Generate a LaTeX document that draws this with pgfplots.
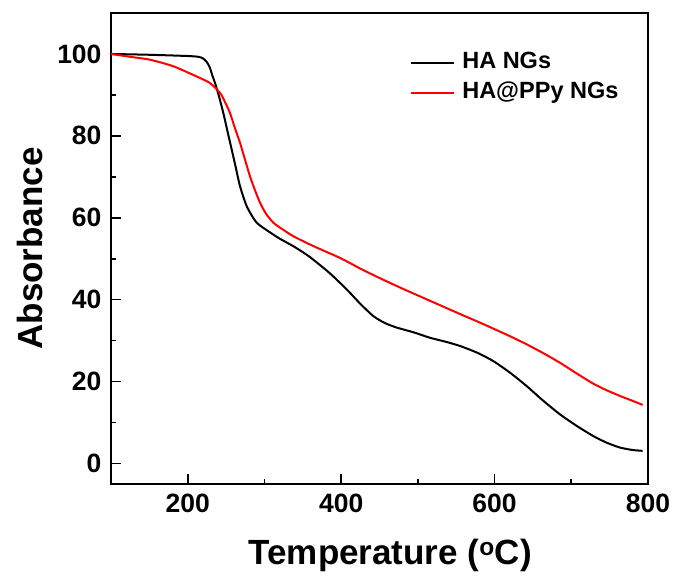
\documentclass[border=0pt]{standalone}
\usepackage{fontspec}
\setmainfont{Liberation Sans}
\usepackage{pgfplots}
\pgfplotsset{compat=1.18}
\pgfplotstableread{
T v
100 100
150 99.8
200 99.5
214 99.3
220 98.9
225 98.0
229 96.6
232 94.8
235.6 92.9
241 89.5
246.4 85.6
252 81
257.3 76.7
263 72
268.2 67.7
277 62.8
290 58.8
311.6 55.9
320 54.9
340 52.8
359.4 50.4
385 46.5
407.3 42.5
425 39
441.9 36
457 34.3
472.4 33.2
495 32
515.9 30.7
535 29.8
555 28.7
578 27.0
598.4 25.0
620 22.2
641.9 18.9
663 15.4
685.3 12
707 9.2
728.7 6.7
746 5.1
763.5 3.9
780 3.3
793 3.1
}\haData
\pgfplotstableread{
T v
100 100
125 99.3
150.8 98.6
181.2 97.0
211.7 94.5
229 92.9
242.1 90.5
248 88.5
255.1 85.6
261 82.2
268.2 78.3
275 74
281.2 70.1
288 66.6
294.2 63.7
302 61
311.6 58.8
320.3 57.6
337.7 55.5
363.7 53.1
398.5 50.2
425 47.6
450 45.3
480 42.7
515 39.8
555 36.5
581 34.4
600 32.8
620 31.1
641.9 29.1
663 27
685.3 24.6
707 22
728.7 19.5
746 17.9
763.5 16.5
780 15.3
793 14.3
}\ppyData
\begin{document}
\begin{tikzpicture}
\begin{axis}[
  scale only axis, width=537pt, height=471pt,
  xmin=100, xmax=800, ymin=-5, ymax=110,
  xtick={200,400,600,800}, minor xtick={300,500,700},
  ytick={0,20,...,100}, minor ytick={10,30,50,70,90},
  tick align=inside, xtick pos=bottom, ytick pos=left,
  major tick length=10pt, minor tick length=5pt,
  axis line style={line width=2pt},
  every tick/.style={black, line width=1.6pt},
  /pgf/number format/assume math mode=true,
  ticklabel style={font=\fontsize{26.5}{26.5}\selectfont\bfseries},
  xticklabel style={yshift=-6pt},
  yticklabel style={xshift=-6pt},
  xlabel={Temperature (\textsuperscript{o}C)},
  ylabel={Absorbance},
  label style={font=\fontsize{35}{35}\selectfont\bfseries},
  xlabel style={at={(axis description cs:0.52,-0.151)}, anchor=center},
  ylabel style={at={(axis description cs:-0.151,0.5)}, anchor=center},
  legend style={draw=none, fill=none, at={(axis description cs:0.557,0.918)}, anchor=north west,
    inner xsep=0pt, inner ysep=0pt, row sep=8pt,
    nodes={text height=17pt, text depth=5pt, inner sep=0pt},
    font=\fontsize{23.5}{23.5}\selectfont\bfseries},
  legend cell align=left,
  legend image code/.code={\draw[#1] (0pt,0pt) -- (43pt,0pt); \path (50pt,0pt);},
  clip=false,
]
\addplot[black, line width=2pt, smooth, tension=0.4] table[x=T,y=v] {\haData};
\addlegendentry{HA NGs}
\addplot[red, line width=2pt, smooth, tension=0.4] table[x=T,y=v] {\ppyData};
\addlegendentry{HA@PPy NGs}
\end{axis}
\pgfresetboundingbox
\useasboundingbox (-111pt,-95pt) rectangle (567pt,484pt);
\end{tikzpicture}
\end{document}
